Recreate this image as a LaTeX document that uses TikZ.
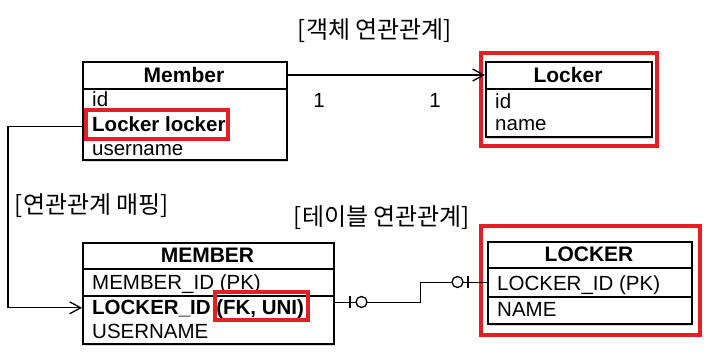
\documentclass[tikz,border=0pt]{standalone}
\usepackage{fontspec}
\setmainfont{Liberation Sans}
\newfontfamily\kor{Noto Sans CJK KR}
\usetikzlibrary{shadows,arrows.meta,calc}
\definecolor{hired}{RGB}{228,30,37}

\begin{document}
\begin{tikzpicture}[x=1pt,y=-1pt,
  every node/.style={inner sep=0pt},
  tbl/.style={draw,line width=1.6pt,fill=white,anchor=north west,
    drop shadow={shadow xshift=1.5pt,shadow yshift=-2.5pt,opacity=.3}},
  hd/.style={font=\fontsize{21}{24}\selectfont\bfseries},
  fld/.style={anchor=base west,font=\fontsize{20.5}{24}\selectfont},
  fldb/.style={fld,font=\fontsize{20.5}{24}\selectfont\bfseries},
  ttl/.style={font=\kor\fontsize{24}{28}\selectfont},
  hilite/.style={draw=hired,line width=3.6pt},
  ref/.style={line width=1.3pt,-{Straight Barb[length=11pt,width=12pt,line width=1.3pt]}},
  erl/.style={line width=1.3pt}]
  \useasboundingbox (0,0) rectangle (704,356);
  % object side
  \node[ttl] (objtitle) at (375,31) {[객체 연관관계]};
  \node[tbl,minimum width=204pt,minimum height=98pt] (member) at (82,61) {};
  \draw[line width=1.6pt] (82,89) -- (286,89);
  \node[hd] (memberhd) at (184,75) {Member};
  \node[fld] (memberid) at (92,106) {id};
  \node[fldb] (memberlocker) at (92,131) {Locker locker};
  \node[fld] (memberuser) at (92,155) {username};
  \draw[hilite] (86,110) rectangle (228,139);

  \node[tbl,minimum width=166pt,minimum height=75pt] (locker) at (485,61) {};
  \draw[line width=1.6pt] (485,89) -- (651,89);
  \node[hd] (lockerhd) at (568,75) {Locker};
  \node[fld] (lockerid) at (495,108) {id};
  \node[fld] (lockername) at (495,130) {name};
  \draw[hilite] (481,53) rectangle (657,146);

  \draw[ref] (memberhd -| member.east) -- (memberhd -| locker.west);
  \node (onel) at (319,100) {\fontsize{20.5}{24}\selectfont 1};
  \node (oner) at (435,100) {\fontsize{20.5}{24}\selectfont 1};

  % table side
  \node[ttl] (maptitle) at (92,206) {[연관관계 매핑]};
  \node[ttl] (tbltitle) at (382,218) {[테이블 연관관계]};
  \node[tbl,minimum width=251pt,minimum height=101pt] (membertbl) at (82,242) {};
  \draw[line width=1.6pt] (82,269) -- (333,269);
  \draw[line width=1.6pt] (82,296) -- (333,296);
  \node[hd] (membertblhd) at (207.5,255.5) {MEMBER};
  \node[fld] (memberidcol) at (92,289) {MEMBER\_ID (PK)};
  \node[fldb] (lockeridcol) at (92,314) {LOCKER\_ID (FK, UNI)};
  \node[fld] (usernamecol) at (92,338) {USERNAME};
  \draw[hilite] (215,292) rectangle (308,320);

  \node[tbl,minimum width=204pt,minimum height=82pt] (lockertbl) at (487,241) {};
  \draw[line width=1.6pt] (487,268) -- (691,268);
  \draw[line width=1.6pt] (487,297) -- (691,297);
  \node[hd] (lockertblhd) at (589,254.5) {LOCKER};
  \node[fld] (lockerpkcol) at (497,290) {LOCKER\_ID (PK)};
  \node[fld] (namecol) at (497,316) {NAME};
  \draw[hilite] (481,226) rectangle (700,335);

  \draw[ref] ($(member.west)+(0,16)$) -- ++(-74,0) |- ($(membertbl.west)+(0,14.5)$);
  \draw[erl] ($(membertbl.east)+(0,9.5)$) -- ++(86,0) |- (lockertbl.west);
  % zero-or-one marks
  \draw[erl] (350,296) -- (350,308);
  \draw[erl,fill=white] (361.5,302) circle (5.5);
  \draw[erl,fill=white] (457.5,282) circle (5.5);
  \draw[erl] (468,276) -- (468,288);
\end{tikzpicture}
\end{document}
